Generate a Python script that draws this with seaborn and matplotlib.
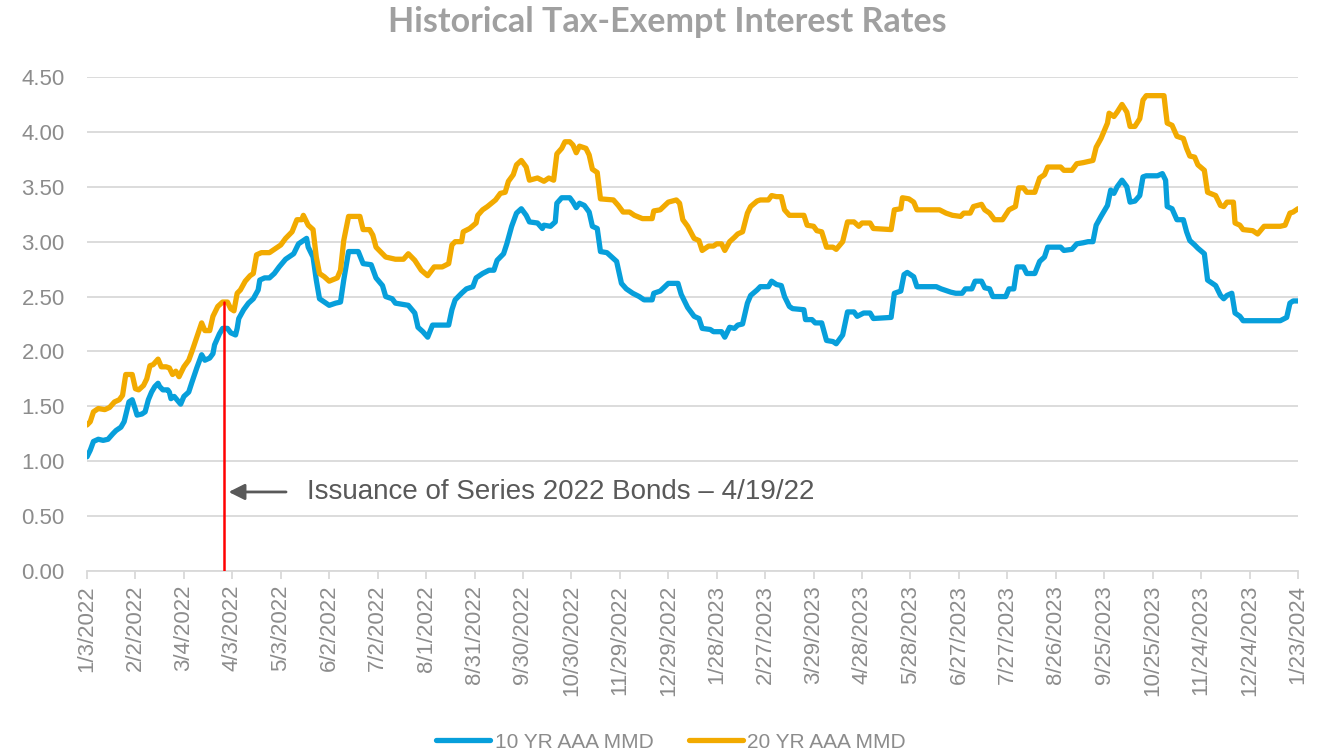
import numpy as np
import pandas as pd
import matplotlib
matplotlib.use("Agg")
import matplotlib.pyplot as plt
import matplotlib.dates as mdates
from matplotlib.lines import Line2D
import seaborn as sns

# ---------------- data ----------------
START = "2022-01-03"
title = "Historical Tax-Exempt Interest Rates"
series_names = ["10 YR AAA MMD", "20 YR AAA MMD"]
annotation_text = "Issuance of Series 2022 Bonds \u2013 4/19/22"

# day offsets from START, and rate values
days_10yr = [0, 2, 4, 7, 10, 13, 16, 18, 21, 23, 26, 28, 30, 31, 34, 36, 38, 40, 42, 44,
             45, 47, 50, 51, 52, 54, 58, 60, 63, 65, 68, 71, 73, 76, 78, 79, 82, 84, 87, 89,
             92, 93, 94, 97, 100, 103, 106, 107, 110, 113, 116, 119, 123, 128, 131, 134, 136, 137, 140, 142,
             144, 147, 150, 154, 157, 159, 162, 168, 171, 176, 179, 183, 185, 189, 191, 199, 203, 205, 208, 211,
             214, 224, 226, 228, 232, 235, 239, 241, 245, 249, 252, 254, 258, 260, 263, 266, 269, 272, 274, 279,
             282, 283, 287, 290, 291, 294, 299, 301, 303, 305, 308, 311, 313, 316, 318, 322, 325, 328, 331, 334,
             338, 342, 345, 350, 351, 355, 360, 366, 368, 372, 376, 379, 381, 386, 388, 393, 395, 398, 401, 403,
             406, 409, 411, 415, 417, 422, 424, 427, 430, 432, 435, 437, 444, 445, 449, 451, 455, 458, 462, 464,
             468, 471, 475, 477, 481, 485, 487, 498, 500, 504, 506, 508, 512, 514, 526, 529, 535, 538, 542, 544,
             548, 550, 554, 556, 559, 561, 569, 571, 574, 576, 580, 582, 587, 590, 593, 595, 603, 605, 610, 613,
             617, 620, 623, 625, 628, 632, 634, 636, 638, 641, 644, 646, 649, 652, 654, 656, 663, 666, 668, 669,
             672, 675, 679, 681, 683, 686, 688, 692, 694, 699, 702, 704, 706, 709, 711, 714, 716, 739, 743, 745,
             747, 750]
rate_10yr = [1.04, 1.10, 1.18, 1.20, 1.19, 1.20, 1.25, 1.28, 1.31, 1.36, 1.54, 1.56, 1.47, 1.42, 1.43, 1.45, 1.56, 1.63, 1.68, 1.71,
             1.68, 1.65, 1.65, 1.63, 1.57, 1.59, 1.52, 1.59, 1.63, 1.72, 1.85, 1.97, 1.92, 1.94, 1.98, 2.06, 2.16, 2.21, 2.21, 2.17,
             2.15, 2.21, 2.30, 2.38, 2.44, 2.48, 2.56, 2.65, 2.67, 2.67, 2.71, 2.77, 2.84, 2.89, 2.98, 3.01, 3.03, 2.95, 2.86, 2.65,
             2.48, 2.45, 2.42, 2.44, 2.45, 2.65, 2.91, 2.91, 2.80, 2.79, 2.67, 2.60, 2.50, 2.48, 2.44, 2.42, 2.35, 2.22, 2.18, 2.13,
             2.24, 2.24, 2.38, 2.47, 2.53, 2.57, 2.59, 2.67, 2.71, 2.74, 2.74, 2.83, 2.89, 2.98, 3.14, 3.26, 3.30, 3.24, 3.18, 3.17,
             3.12, 3.15, 3.14, 3.18, 3.35, 3.40, 3.40, 3.36, 3.31, 3.35, 3.33, 3.27, 3.14, 3.12, 2.91, 2.90, 2.86, 2.82, 2.62, 2.57,
             2.53, 2.50, 2.47, 2.47, 2.53, 2.55, 2.62, 2.62, 2.52, 2.40, 2.32, 2.30, 2.21, 2.20, 2.18, 2.18, 2.13, 2.22, 2.21, 2.24,
             2.25, 2.44, 2.51, 2.56, 2.59, 2.59, 2.64, 2.61, 2.60, 2.50, 2.41, 2.39, 2.38, 2.29, 2.29, 2.26, 2.26, 2.10, 2.09, 2.07,
             2.15, 2.36, 2.36, 2.32, 2.35, 2.35, 2.30, 2.31, 2.53, 2.55, 2.70, 2.72, 2.68, 2.59, 2.59, 2.57, 2.54, 2.53, 2.53, 2.57,
             2.57, 2.64, 2.64, 2.58, 2.57, 2.50, 2.50, 2.57, 2.57, 2.77, 2.77, 2.71, 2.71, 2.82, 2.86, 2.95, 2.95, 2.92, 2.93, 2.98,
             2.99, 3.00, 3.00, 3.15, 3.23, 3.33, 3.47, 3.44, 3.50, 3.56, 3.50, 3.36, 3.37, 3.42, 3.59, 3.60, 3.60, 3.62, 3.56, 3.32,
             3.30, 3.20, 3.20, 3.09, 3.01, 2.97, 2.94, 2.89, 2.65, 2.60, 2.51, 2.48, 2.51, 2.53, 2.35, 2.32, 2.28, 2.28, 2.31, 2.44,
             2.46, 2.46]

days_20yr = [0, 2, 4, 7, 11, 14, 17, 20, 22, 24, 28, 30, 32, 35, 37, 39, 41, 44, 46, 49,
             51, 53, 55, 57, 60, 63, 65, 68, 71, 73, 76, 78, 81, 84, 87, 89, 91, 93, 95, 98,
             101, 103, 105, 108, 113, 117, 120, 123, 127, 130, 133, 134, 137, 140, 142, 144, 147, 150, 155, 157,
             159, 162, 169, 171, 175, 177, 179, 183, 185, 191, 196, 199, 203, 207, 211, 215, 220, 224, 226, 228,
             232, 233, 237, 241, 242, 245, 248, 253, 256, 259, 261, 264, 266, 269, 272, 274, 279, 283, 286, 289,
             291, 294, 296, 299, 301, 303, 305, 309, 311, 313, 316, 318, 326, 329, 332, 336, 339, 344, 350, 351,
             355, 360, 365, 367, 369, 372, 376, 379, 381, 385, 388, 390, 393, 395, 398, 401, 403, 406, 409, 411,
             415, 417, 422, 424, 427, 430, 432, 435, 444, 446, 450, 452, 455, 458, 462, 464, 468, 471, 475, 478,
             480, 485, 487, 498, 500, 504, 505, 509, 512, 514, 528, 532, 536, 541, 543, 547, 549, 554, 556, 559,
             562, 567, 571, 575, 577, 580, 582, 587, 590, 593, 595, 603, 605, 610, 613, 617, 620, 623, 625, 628,
             632, 633, 636, 638, 641, 644, 646, 649, 652, 654, 656, 667, 668, 669, 672, 675, 679, 681, 683, 686,
             688, 692, 694, 699, 702, 704, 706, 710, 711, 714, 716, 722, 725, 729, 739, 742, 745, 747, 750]
rate_20yr = [1.33, 1.36, 1.45, 1.48, 1.47, 1.49, 1.54, 1.56, 1.60, 1.79, 1.79, 1.66, 1.65, 1.69, 1.75, 1.87, 1.88, 1.93, 1.86, 1.86,
             1.85, 1.79, 1.82, 1.77, 1.86, 1.92, 2.00, 2.13, 2.26, 2.19, 2.19, 2.32, 2.41, 2.45, 2.45, 2.39, 2.37, 2.53, 2.56, 2.64,
             2.69, 2.71, 2.88, 2.90, 2.90, 2.94, 2.97, 3.03, 3.09, 3.20, 3.20, 3.24, 3.15, 3.11, 2.86, 2.71, 2.68, 2.64, 2.67, 2.74,
             3.01, 3.23, 3.23, 3.11, 3.11, 3.06, 2.95, 2.89, 2.86, 2.84, 2.84, 2.89, 2.83, 2.74, 2.69, 2.77, 2.77, 2.80, 2.97, 3.00,
             3.00, 3.09, 3.12, 3.17, 3.24, 3.29, 3.32, 3.38, 3.44, 3.45, 3.55, 3.61, 3.70, 3.74, 3.68, 3.56, 3.58, 3.55, 3.58, 3.56,
             3.80, 3.85, 3.91, 3.91, 3.88, 3.81, 3.87, 3.85, 3.79, 3.66, 3.63, 3.39, 3.38, 3.33, 3.27, 3.27, 3.24, 3.21, 3.21, 3.28,
             3.29, 3.36, 3.38, 3.35, 3.20, 3.14, 3.03, 3.01, 2.92, 2.96, 2.96, 2.98, 2.98, 2.92, 3.00, 3.04, 3.07, 3.09, 3.26, 3.32,
             3.37, 3.38, 3.38, 3.42, 3.41, 3.41, 3.29, 3.24, 3.24, 3.15, 3.14, 3.10, 3.09, 2.95, 2.95, 2.93, 3.00, 3.18, 3.18, 3.14,
             3.17, 3.17, 3.12, 3.11, 3.29, 3.30, 3.40, 3.39, 3.36, 3.29, 3.29, 3.26, 3.24, 3.23, 3.26, 3.26, 3.32, 3.34, 3.29, 3.26,
             3.20, 3.20, 3.29, 3.32, 3.49, 3.49, 3.45, 3.45, 3.58, 3.61, 3.68, 3.68, 3.65, 3.65, 3.71, 3.72, 3.73, 3.74, 3.86, 3.94,
             4.08, 4.17, 4.14, 4.18, 4.25, 4.18, 4.05, 4.05, 4.12, 4.29, 4.33, 4.33, 4.20, 4.08, 4.06, 3.96, 3.94, 3.85, 3.78, 3.77,
             3.70, 3.65, 3.45, 3.42, 3.33, 3.32, 3.36, 3.36, 3.17, 3.15, 3.11, 3.10, 3.07, 3.14, 3.14, 3.15, 3.26, 3.27, 3.30]

tick_labels = ["1/3/2022", "2/2/2022", "3/4/2022", "4/3/2022", "5/3/2022", "6/2/2022", "7/2/2022",
               "8/1/2022", "8/31/2022", "9/30/2022", "10/30/2022", "11/29/2022", "12/29/2022",
               "1/28/2023", "2/27/2023", "3/29/2023", "4/28/2023", "5/28/2023", "6/27/2023",
               "7/27/2023", "8/26/2023", "9/25/2023", "10/25/2023", "11/24/2023", "12/24/2023",
               "1/23/2024"]
y_ticks = [0.0, 0.5, 1.0, 1.5, 2.0, 2.5, 3.0, 3.5, 4.0, 4.5]

issuance_day = 85        # day offset where the red marker line is drawn
issuance_top = 2.45      # top of red marker line
arrow_y = 0.72
arrow_from_day = 125
arrow_to_day = 86
text_day = 136

# ---------------- build table ----------------
start = pd.Timestamp(START)
df = pd.concat([
    pd.DataFrame({"date": start + pd.to_timedelta(days_10yr, unit="D"),
                  "rate": rate_10yr, "series": series_names[0]}),
    pd.DataFrame({"date": start + pd.to_timedelta(days_20yr, unit="D"),
                  "rate": rate_20yr, "series": series_names[1]}),
], ignore_index=True)

# ---------------- styling ----------------
sns.set_style("white")
plt.rcParams["font.family"] = ["Liberation Sans", "DejaVu Sans"]

BLUE = "#079FDB"
ORANGE = "#F2AA00"
GRID = "#D9D9D9"
TICK = "#8C8C8C"

fig = plt.figure(figsize=(13.27, 7.52), dpi=100)
ax = fig.add_axes([87 / 1327, 181 / 752, (1298 - 87) / 1327, (571 - 77) / 752])

sns.lineplot(data=df, x="date", y="rate", hue="series", hue_order=series_names,
             palette=[BLUE, ORANGE], linewidth=3.8, estimator=None, sort=True,
             legend=False, ax=ax, solid_joinstyle="round", solid_capstyle="round")

ax.set_xlim(start, start + pd.Timedelta(days=750))
ax.set_ylim(0, 4.5)
ax.set_xlabel("")
ax.set_ylabel("")

ax.set_yticks(y_ticks)
ax.set_yticklabels([f"{v:.2f}" for v in y_ticks])
ax.yaxis.grid(True, color=GRID, linewidth=1.3)
ax.xaxis.grid(False)
ax.set_axisbelow(True)

tick_dates = pd.to_datetime(tick_labels, format="%m/%d/%Y")
ax.set_xticks(tick_dates)
ax.set_xticklabels(tick_labels, rotation=90)

for s in ["top", "right", "left"]:
    ax.spines[s].set_visible(False)
ax.spines["bottom"].set_color(GRID)
ax.spines["bottom"].set_linewidth(1.3)

ax.tick_params(axis="x", length=6, width=1.3, color=GRID, labelcolor=TICK,
               labelsize=16, pad=4, bottom=True)
ax.tick_params(axis="y", length=0, pad=16, labelcolor=TICK, labelsize=16)

# red issuance line
xd = start + pd.Timedelta(days=issuance_day)
ax.plot([xd, xd], [0, issuance_top], color="#FF0000", linewidth=1.8, zorder=5)

# arrow + annotation
ax.annotate("", xy=(mdates.date2num(start + pd.Timedelta(days=arrow_to_day)), arrow_y),
            xytext=(mdates.date2num(start + pd.Timedelta(days=arrow_from_day)), arrow_y),
            arrowprops=dict(arrowstyle="-|>", color="#595959", lw=2, mutation_scale=24),
            zorder=6)
ax.text(mdates.date2num(start + pd.Timedelta(days=text_day)), arrow_y, annotation_text,
        ha="left", va="center", fontsize=20, color="#595959")

# title
fig.text(667 / 1327, 1 - 22 / 752, title, ha="center", va="center",
         fontsize=24.5, fontweight="bold", color="#A0A0A0",
         family=["Lato", "DejaVu Sans"])

# legend
handles = [Line2D([0], [0], color=c, linewidth=3.8, solid_capstyle="round")
           for c in (BLUE, ORANGE)]
leg = fig.legend(handles, series_names, loc="center", bbox_to_anchor=(671 / 1327, 10 / 752),
                 ncol=2, frameon=False, fontsize=15, handlelength=2.6,
                 handletextpad=0.2, columnspacing=1.7)
for t in leg.get_texts():
    t.set_color(TICK)

fig.savefig("out.png", dpi=100)
